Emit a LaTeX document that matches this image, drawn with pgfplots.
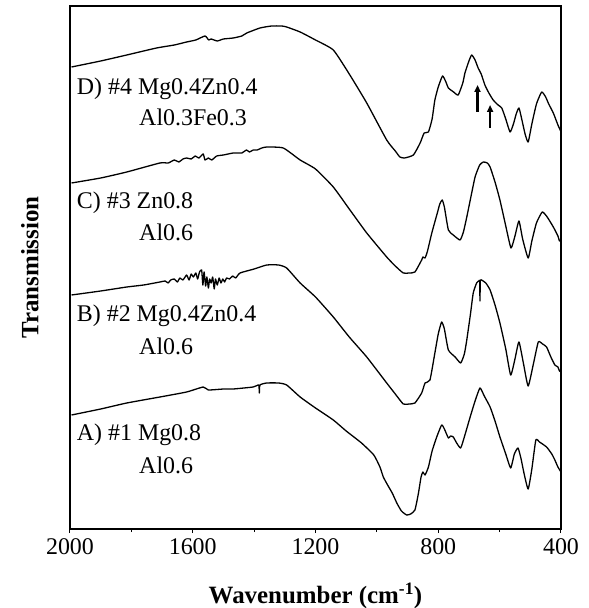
\documentclass[border=0pt]{standalone}
\usepackage{fontspec}
\setmainfont{Liberation Serif}
\usepackage{pgfplots}
\pgfplotsset{compat=1.18}
\usetikzlibrary{arrows.meta}
\pgfplotsset{spec/.style={black, no marks, line width=1.3bp, line join=round, smooth, tension=0.3}}
\begin{document}
\begin{tikzpicture}
\begin{axis}[
  name=ax,
  scale only axis, width=491bp, height=523bp,
  x dir=reverse, xmin=400, xmax=2000, ymin=0, ymax=523,
  xtick={400,800,1200,1600,2000}, minor xtick={600,1000,1400,1800},
  ytick=\empty,
  xtick pos=bottom, tick align=outside,
  major tick length=4bp, minor tick length=3bp,
  axis line style={line width=1.2bp},
  every tick/.style={black, line width=1bp},
  tick label style={font=\fontsize{24}{28}\selectfont},
  xticklabel style={yshift=-2bp},
  /pgf/number format/assume math mode=true,
  /pgf/number format/set thousands separator={},
  xlabel={\textbf{Wavenumber (cm\textsuperscript{-1})}},
  xlabel style={font=\fontsize{25}{30}\selectfont, at={(axis description cs:0.5,-0.1415)}, anchor=base},
  ylabel={\textbf{Transmission}},
  ylabel style={font=\fontsize{25}{30}\selectfont, at={(axis description cs:-0.0815,0.5)}, anchor=center},
]
% D) #4
\addplot[spec] coordinates {
(1995,462) (1900,468) (1815,474) (1718,481) (1660,484) (1620,487) (1590,489)
(1560,493) (1548,489) (1540,490) (1520,488) (1500,490) (1468,491) (1440,493) (1424,496) (1381,501)
(1343,503) (1310,503) (1294,502) (1250,497) (1200,489) (1142,479) (1090,455)
(1033,426) (968,389) (940,378) (925,372) (910,371) (881,374) (859,386) (846,396)
(832,397) (820,410) (811,429) (800,442) (786,453) (775,447) (767,441) (750,437)
(735,434) (720,446) (713,456) (700,468) (691,474) (680,469) (670,461) (660,455)
(648,444) (635,436) (621,429) (605,424) (593,421) (580,410) (566,397) (555,405)
(546,415) (537,421) (528,410) (517,395) (507,387) (495,405) (480,425) (463,437)
(450,432) (440,425) (425,416) (410,404) (398,396)
};
% C) #3
\addplot[spec] coordinates {
(1995,346) (1900,351) (1815,357) (1707,366) (1680,366) (1660,369) (1645,367)
(1632,370) (1620,371) (1605,370) (1592,373) (1580,371) (1566,375) (1560,369)
(1549,371) (1538,369) (1522,373) (1500,374) (1468,376) (1440,376) (1425,379)
(1415,377) (1403,379) (1390,379) (1375,381) (1359,382) (1305,381) (1250,369) (1200,360)
(1142,342) (1090,320) (1033,296) (968,272) (940,263) (914,256) (895,256)
(876,257) (854,269) (850,272) (843,271) (835,278) (821,296) (803,316) (795,325)
(787,329) (780,322) (767,299) (751,294) (729,289) (718,297) (707,312) (695,330)
(680,352) (665,364) (653,367) (640,366) (631,362) (615,347) (599,329) (580,303)
(563,281) (550,293) (537,308) (525,290) (507,271) (495,288) (480,306) (461,317)
(445,312) (425,302) (410,293) (405,288) (398,289)
};
% B) #2
\addplot[spec] coordinates {
(1995,234) (1900,238) (1815,242) (1760,244) (1707,247) (1690,248) (1680,246)
(1672,249) (1660,250) (1650,247) (1642,251) (1632,249) (1620,254) (1612,249)
(1605,255) (1598,252) (1590,256) (1584,250) (1578,257) (1571,259) (1567,244)
(1563,257) (1558,243) (1554,252) (1549,241) (1545,250) (1540,246) (1535,252)
(1530,240) (1526,250) (1520,244) (1514,251) (1508,246) (1502,250) (1496,247)
(1490,251) (1480,250) (1470,253) (1460,251) (1446,256) (1400,260) (1359,264)
(1320,264) (1294,261) (1250,246)
(1200,232) (1142,212) (1090,192) (1033,172) (968,146) (940,135) (914,125)
(895,125) (876,126) (854,136) (843,146) (827,149) (811,176) (800,195) (789,207)
(780,200) (767,179) (745,172) (727,166) (715,175) (707,189) (695,215) (686,236)
(675,246) (668,248) (665,248) (664,228) (663,248) (659,249) (645,246) (631,239)
(615,224) (599,206) (580,180) (564,154) (550,170) (537,187) (522,165) (507,143)
(490,165) (474,187) (460,185) (447,182) (433,172) (420,164) (410,162) (405,158)
(398,157)
};
% A) #1
\addplot[spec] coordinates {
(1995,114) (1900,120) (1815,126) (1707,132) (1620,137) (1566,142) (1549,139)
(1500,140) (1468,140) (1403,142) (1385,144) (1383,136) (1381,144) (1359,146)
(1320,146) (1294,144) (1250,132) (1200,121) (1142,109) (1100,98) (1050,86)
(1010,74) (990,62) (979,52) (965,44) (950,36) (935,26) (920,18) (903,14)
(890,15) (876,19) (865,35) (856,52) (850,57) (843,54) (832,62) (820,78)
(805,92) (789,104) (780,100) (767,91) (760,93) (751,92) (740,86) (727,81)
(715,92) (696,112) (680,128) (664,141) (650,133) (631,122) (615,108) (599,92)
(580,75) (564,61) (552,75) (540,81) (530,70) (520,55) (507,40) (495,60)
(482,89) (470,87) (447,82) (430,75) (420,69) (410,62) (398,56)
};
\draw[line width=2.4bp, -{Triangle[length=7bp,width=6bp]}] (axis cs:672,417) -- (axis cs:672,444);
\draw[line width=2.4bp, -{Triangle[length=7bp,width=6bp]}] (axis cs:631,401) -- (axis cs:631,424);
\begin{scope}[every node/.style={anchor=west, inner sep=0pt, font=\fontsize{24}{28}\selectfont}]
\node at (axis cs:1978,440) {D) \#4 Mg0.4Zn0.4};
\node at (axis cs:1775,412) {Al0.3Fe0.3};
\node at (axis cs:1978,326) {C) \#3 Zn0.8};
\node at (axis cs:1775,297) {Al0.6};
\node at (axis cs:1978,213) {B) \#2 Mg0.4Zn0.4};
\node at (axis cs:1775,183) {Al0.6};
\node at (axis cs:1978,94) {A) \#1 Mg0.8};
\node at (axis cs:1775,64) {Al0.6};
\end{scope}
\end{axis}
\pgfresetboundingbox
\path ([shift={(-70bp,-79bp)}]ax.south west) rectangle ([shift={(28bp,6bp)}]ax.north east);
\end{tikzpicture}
\end{document}
